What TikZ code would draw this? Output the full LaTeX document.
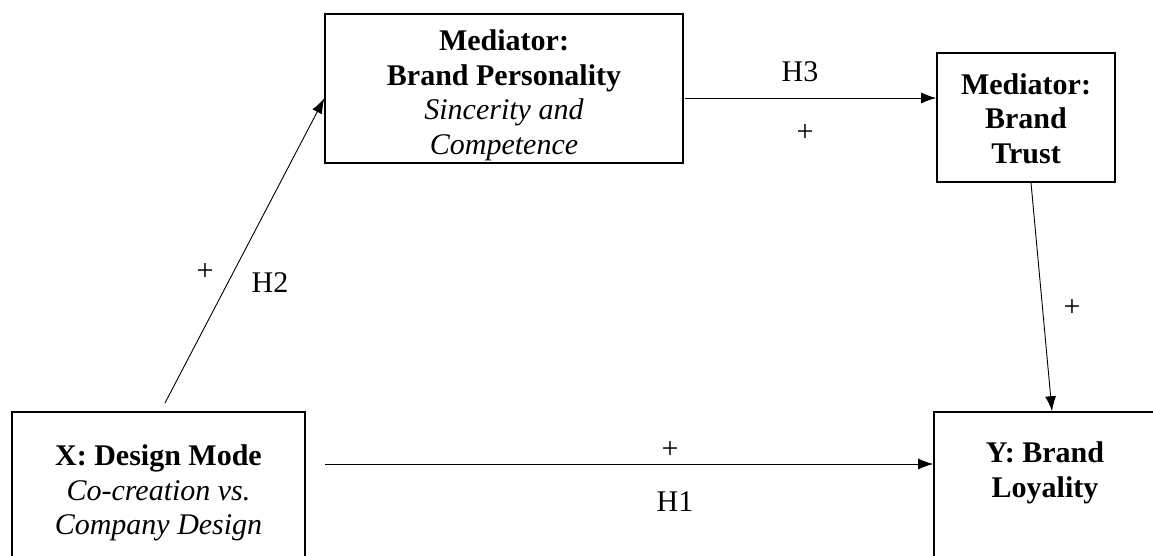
\documentclass[tikz,border=0pt]{standalone}
\usepackage{fontspec}
\setmainfont{Liberation Serif}
\usetikzlibrary{positioning,arrows.meta,calc}

\begin{document}
\begin{tikzpicture}[
x=1pt, y=-1pt,
font=\fontsize{30}{34.5}\selectfont,
block/.style={draw, line width=1.6pt, inner sep=0pt},
arr/.style={-{Latex[length=15pt,width=11pt]}, line width=0.9pt},
]
	\useasboundingbox (0,0) rectangle (1153,556);
	% boxes
	\node[block, minimum width=293, minimum height=166] (xmode) at (158.5,495) {};
	\node[block, minimum width=358, minimum height=149] (person) at (504,88.5) {};
	\node[block, minimum width=178, minimum height=129] (trust) at (1026,117.5) {};
	\node[block, minimum width=222, minimum height=166] (loyal) at (1045,495) {}; %cut off
	% box texts
	\node[align=center] (xmodetext) at ([yshift=2pt]xmode)
		{\textbf{X: Design Mode}\\ \textit{Co-creation vs.}\\ \textit{Company Design}};
	\node[align=center] (persontext) at ([yshift=-7pt]person)
		{\textbf{Mediator:}\\ \textbf{Brand Personality}\\ \textit{Sincerity and}\\ \textit{Competence}};
	\node[align=center] (trusttext) at ([yshift=-1pt]trust)
		{\textbf{Mediator:}\\ \textbf{Brand}\\ \textbf{Trust}};
	\node[align=center, anchor=north] (loyaltext) at ([yshift=-27pt]loyal.north)
		{\textbf{Y: Brand}\\ \textbf{Loyality}};

	\coordinate (h1s) at (325,464);
	\coordinate (h2s) at (165,403);
	\coordinate (h3s) at (685,98);
	\draw[arr] (h1s) -- (h1s -| loyal.west);
	\draw[arr] (h2s) -- ([yshift=-10pt]person.west);
	\draw[arr] (h3s) -- (h3s -| trust.west);
	\draw[arr] ([xshift=5pt]trust.south) -- ([xshift=7pt]loyal.north);

	\node (h1) at (675,502) {H1};
	\node (p1) at (670,450) {+};
	\node (h2) at (270,283) {H2};
	\node (p2) at (205,272) {+};
	\node (h3) at (800,72) {H3};
	\node (p3) at (805,133) {+};
	\node (p4) at (1072,308) {+};
\end{tikzpicture}
\end{document}
